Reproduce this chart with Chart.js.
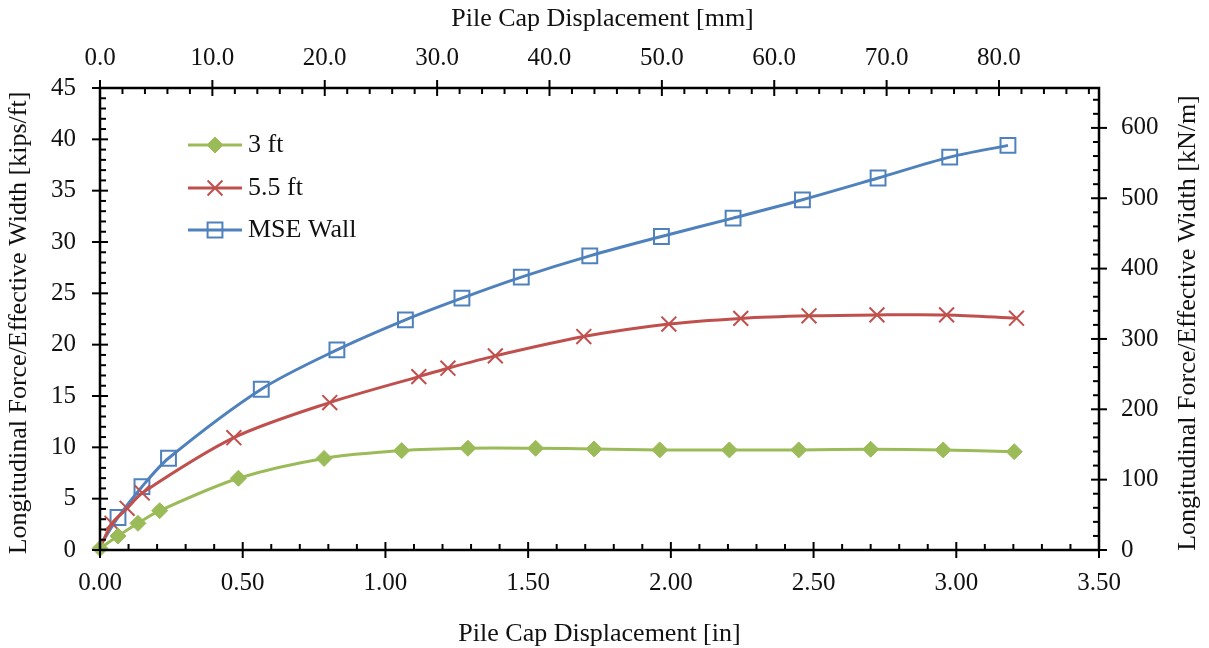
<!DOCTYPE html>
<html>
<head>
<meta charset="utf-8">
<title>Pile Cap Load-Displacement</title>
<script src="https://cdn.jsdelivr.net/npm/chart.js@4/dist/chart.umd.min.js"></script>
<style>
  html, body { margin: 0; padding: 0; background: #fff; }
  canvas { display: block; }
</style>
</head>
<body>
<canvas id="chart" width="1209" height="648"></canvas>
<script>
// displacement [in] and force per effective width [kips/ft] for each test
const ft3Disp = [0, 0.063, 0.133, 0.209, 0.485, 0.785, 1.057, 1.289, 1.526, 1.731, 1.961, 2.205, 2.448, 2.700, 2.954, 3.203];
const ft3Force = [0.15, 1.36, 2.60, 3.83, 6.99, 8.92, 9.68, 9.91, 9.91, 9.84, 9.75, 9.75, 9.75, 9.81, 9.75, 9.58];

const ft55Disp = [0, 0.042, 0.095, 0.148, 0.469, 0.805, 1.117, 1.219, 1.385, 1.695, 1.993, 2.245, 2.484, 2.722, 2.966, 3.211];
const ft55Force = [0.2, 2.60, 4.06, 5.56, 10.94, 14.36, 16.89, 17.71, 18.91, 20.79, 22.01, 22.56, 22.81, 22.90, 22.90, 22.58];

const mseDisp = [0, 0.063, 0.147, 0.240, 0.565, 0.830, 1.070, 1.268, 1.476, 1.716, 1.967, 2.218, 2.461, 2.726, 2.977, 3.181];
const mseForce = [0.4, 3.17, 6.17, 8.94, 15.66, 19.49, 22.42, 24.53, 26.58, 28.65, 30.54, 32.33, 34.11, 36.23, 38.27, 39.41];

const seriesNames = ['3 ft', '5.5 ft', 'MSE Wall'];

// axis ranges (secondary axes are unit conversions of the primary ones)
const IN_TO_MM = 25.4;
const KIPFT_TO_KNM = 14.5939;
const xMax = 3.5;
const yMax = 45;

const serif = "'Liberation Serif', 'Times New Roman', serif";
const tickFont = { family: serif, size: 25 };

function pts(xs, ys) {
  return xs.map((x, i) => ({ x: x, y: ys[i] }));
}

// no marker on the starting point of a series
function radii(n, r) {
  return Array.from({ length: n }, (_, i) => (i === 0 ? 0 : r));
}

// draws the boxed axes with major (crossing) and minor (inward) tick marks
const axesPlugin = {
  id: 'boxAxes',
  afterDraw(chart) {
    const ctx = chart.ctx;
    const { left, right, top, bottom } = chart.chartArea;
    const s = chart.scales;
    ctx.save();
    ctx.strokeStyle = '#000';
    ctx.lineCap = 'butt';

    ctx.lineWidth = 2;
    // bottom axis every 0.1 in
    for (let i = 0; i <= 35; i++) {
      const px = s.x.getPixelForValue(i / 10);
      const major = i % 5 === 0;
      ctx.beginPath();
      ctx.moveTo(px, bottom + (major ? 8 : 0));
      ctx.lineTo(px, bottom - (major ? 8 : 6));
      ctx.stroke();
    }
    // top axis every 2 mm
    for (let i = 0; i <= 44; i++) {
      const px = s.x2.getPixelForValue(i * 2);
      const major = i % 5 === 0;
      ctx.beginPath();
      ctx.moveTo(px, top - (major ? 8 : 0));
      ctx.lineTo(px, top + (major ? 8 : 6));
      ctx.stroke();
    }
    // left axis every 1 kip/ft
    for (let i = 0; i <= 45; i++) {
      const py = s.y.getPixelForValue(i);
      const major = i % 5 === 0;
      ctx.beginPath();
      ctx.moveTo(left - (major ? 8 : 0), py);
      ctx.lineTo(left + (major ? 8 : 6), py);
      ctx.stroke();
    }
    // right axis every 20 kN/m
    for (let i = 0; i <= 32; i++) {
      const py = s.y2.getPixelForValue(i * 20);
      const major = i % 5 === 0;
      ctx.beginPath();
      ctx.moveTo(right + (major ? 8 : 0), py);
      ctx.lineTo(right - (major ? 8 : 6), py);
      ctx.stroke();
    }

    ctx.lineWidth = 2.5;
    ctx.beginPath();
    ctx.rect(left, top, right - left, bottom - top);
    ctx.stroke();

    // axis titles
    ctx.fillStyle = '#111';
    ctx.font = '26px ' + serif;
    ctx.textAlign = 'center';
    ctx.textBaseline = 'middle';
    const cx = (left + right) / 2;
    const cy = (top + bottom) / 2 + 4;
    ctx.fillText('Pile Cap Displacement [mm]', cx + 3, 19);
    ctx.fillText('Pile Cap Displacement [in]', cx, 634);
    ctx.save();
    ctx.translate(19, cy);
    ctx.rotate(-Math.PI / 2);
    ctx.fillText('Longitudinal Force/Effective Width [kips/ft]', 0, 0);
    ctx.restore();
    ctx.save();
    ctx.translate(1188, cy);
    ctx.rotate(-Math.PI / 2);
    ctx.fillText('Longitudinal Force/Effective Width [kN/m]', 0, 0);
    ctx.restore();

    // legend inside the plot
    const rows = [145, 188, 230];
    chart.data.datasets.forEach((ds, i) => {
      const y = rows[i];
      ctx.strokeStyle = ds.borderColor;
      ctx.fillStyle = ds.pointBackgroundColor;
      ctx.lineWidth = ds.borderWidth;
      ctx.beginPath();
      ctx.moveTo(188, y);
      ctx.lineTo(242, y);
      ctx.stroke();
      ctx.lineWidth = ds.pointBorderWidth;
      Chart.helpers.drawPoint(ctx, {
        pointStyle: ds.pointStyle,
        radius: ds.legendRadius,
        rotation: 0,
        borderWidth: ds.pointBorderWidth
      }, 215, y);
      ctx.fillStyle = '#111';
      ctx.textAlign = 'left';
      ctx.fillText(ds.label, 248, y);
    });
    ctx.restore();
  }
};

function keepSteps(step) {
  return scale => {
    scale.ticks = scale.ticks.filter(t => Math.abs(t.value / step - Math.round(t.value / step)) < 1e-6);
  };
}

new Chart(document.getElementById('chart'), {
  type: 'line',
  data: {
    datasets: [
      {
        label: seriesNames[0],
        data: pts(ft3Disp, ft3Force),
        borderColor: '#9BBB59',
        pointBackgroundColor: '#9BBB59',
        pointBorderColor: '#9BBB59',
        borderWidth: 3,
        pointStyle: 'rectRot',
        pointRadius: 8,
        legendRadius: 8,
        pointBorderWidth: 1
      },
      {
        label: seriesNames[1],
        data: pts(ft55Disp, ft55Force),
        borderColor: '#C0504D',
        pointBackgroundColor: '#C0504D',
        pointBorderColor: '#C0504D',
        borderWidth: 3,
        pointStyle: 'crossRot',
        pointRadius: radii(ft55Disp.length, 10.5),
        legendRadius: 10.5,
        pointBorderWidth: 2
      },
      {
        label: seriesNames[2],
        data: pts(mseDisp, mseForce),
        borderColor: '#4F81BD',
        pointBackgroundColor: 'rgba(0,0,0,0)',
        pointBorderColor: '#4F81BD',
        borderWidth: 3,
        pointStyle: 'rect',
        pointRadius: radii(mseDisp.length, 10.5),
        legendRadius: 10.5,
        pointBorderWidth: 2
      }
    ]
  },
  options: {
    responsive: false,
    animation: false,
    layout: { padding: 0 },
    elements: { line: { tension: 0.3 } },
    datasets: { line: { clip: false } },
    plugins: { legend: { display: false }, tooltip: { enabled: false } },
    scales: {
      x: {
        type: 'linear', position: 'bottom', min: 0, max: xMax,
        ticks: { stepSize: 0.5, padding: 18, color: '#111', font: tickFont, maxRotation: 0,
          callback: v => v.toFixed(2) },
        grid: { display: false, drawTicks: false },
        border: { display: false },
        afterFit: sc => { sc.height = 98; }
      },
      x2: {
        type: 'linear', position: 'top', min: 0, max: xMax * IN_TO_MM,
        ticks: { stepSize: 10, includeBounds: false, autoSkip: false, padding: 15, color: '#111',
          font: tickFont, maxRotation: 0, callback: v => v.toFixed(1) },
        afterBuildTicks: keepSteps(10),
        grid: { display: false, drawTicks: false },
        border: { display: false },
        afterFit: sc => { sc.height = 88; }
      },
      y: {
        type: 'linear', position: 'left', min: 0, max: yMax,
        ticks: { stepSize: 5, padding: 24, color: '#111', font: tickFont },
        grid: { display: false, drawTicks: false },
        border: { display: false },
        afterFit: sc => { sc.width = 100; }
      },
      y2: {
        type: 'linear', position: 'right', min: 0, max: yMax * KIPFT_TO_KNM,
        ticks: { stepSize: 100, includeBounds: false, padding: 22, color: '#111', font: tickFont },
        afterBuildTicks: keepSteps(100),
        grid: { display: false, drawTicks: false },
        border: { display: false },
        afterFit: sc => { sc.width = 110; }
      }
    }
  },
  plugins: [axesPlugin]
});
</script>
</body>
</html>
